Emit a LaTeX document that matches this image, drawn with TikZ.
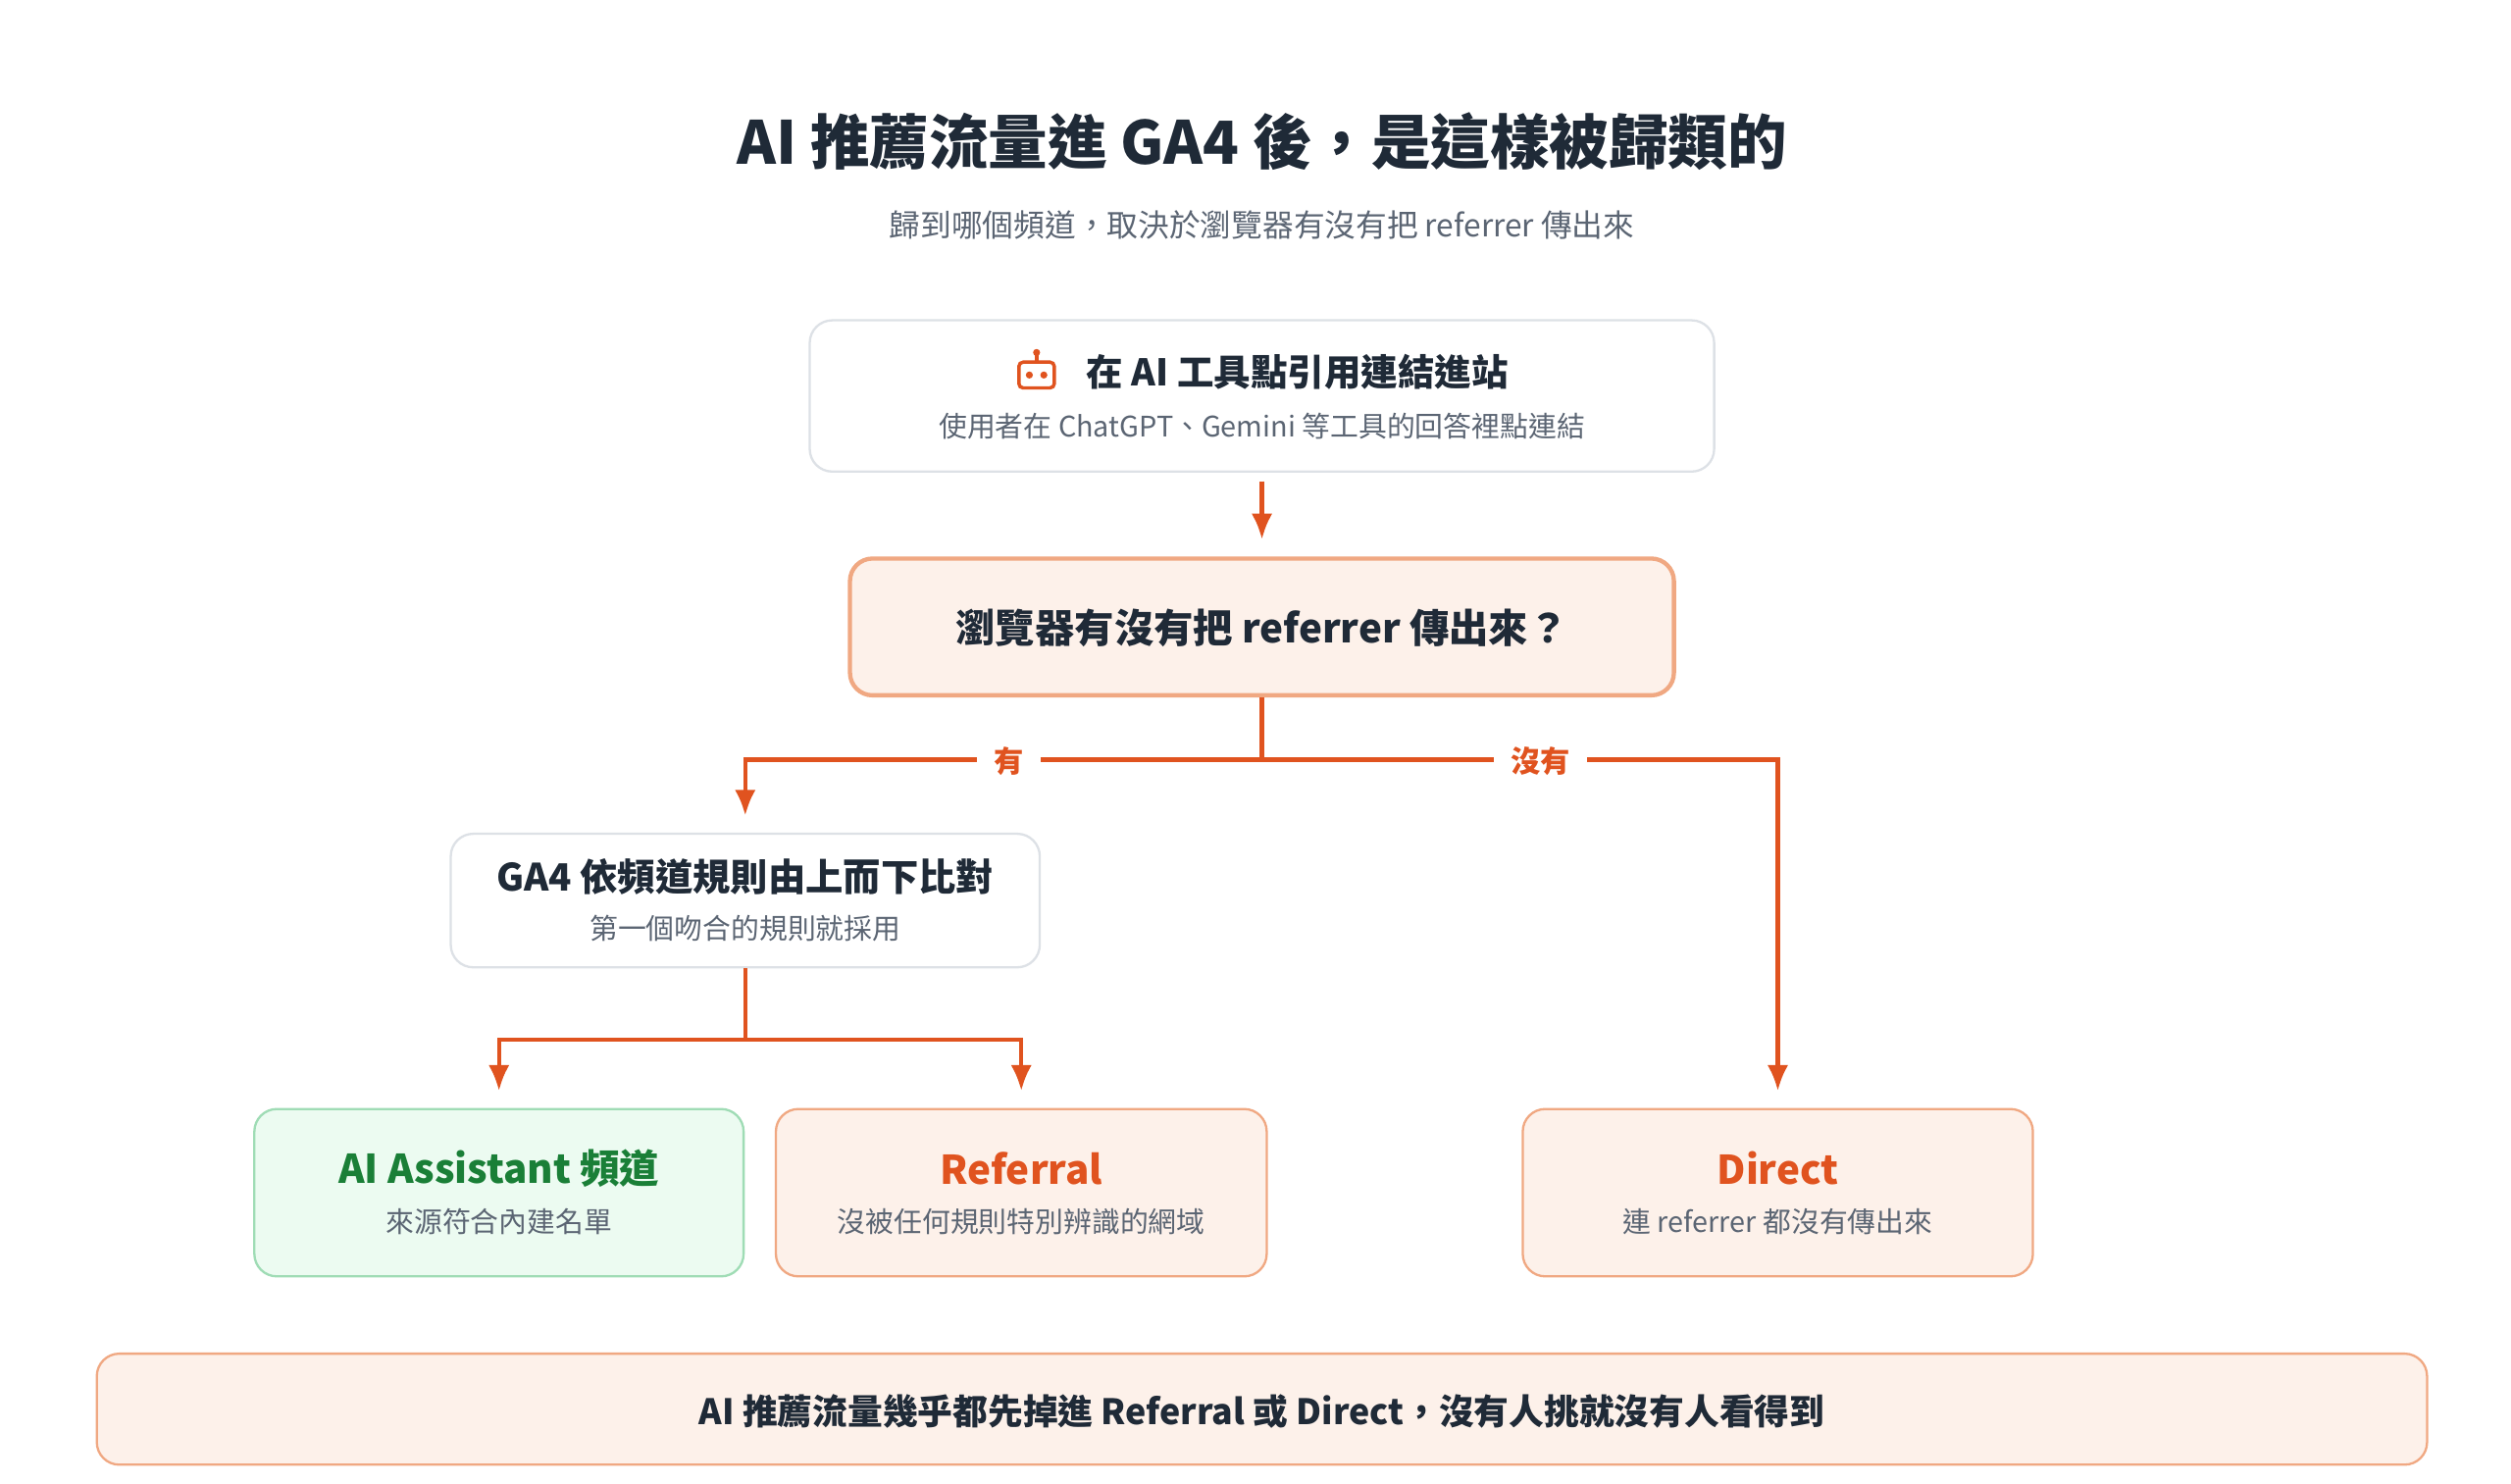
\documentclass[tikz,border=0pt]{standalone}
\usepackage{fontspec}
\setmainfont{Noto Sans CJK TC}
\usetikzlibrary{arrows.meta,positioning}
\definecolor{ink}{HTML}{1F2A37}
\definecolor{muted}{HTML}{5B6573}
\definecolor{flowc}{HTML}{E0531F}
\definecolor{peach}{HTML}{FDF1EA}
\definecolor{peachline}{HTML}{F0A882}
\definecolor{mint}{HTML}{ECFBF1}
\definecolor{mintline}{HTML}{9FDCB5}
\definecolor{leaf}{HTML}{1A7F37}
\definecolor{rim}{HTML}{DDE1E6}
\tikzset{
  >={Latex[length=3.2mm,width=2.6mm]},
  box/.style={draw=rim,line width=0.8pt,rounded corners=0.28cm,fill=white},
  hot/.style={box,draw=peachline,fill=peach},
  good/.style={box,draw=mintline,fill=mint},
  flow/.style={draw=flowc,line width=1.5pt},
  head/.style={font=\fontsize{14}{17}\selectfont\bfseries,text=ink},
  sub/.style={font=\fontsize{10}{12}\selectfont,text=muted},
  tag/.style={font=\fontsize{10.5}{12}\selectfont\bfseries,text=flowc,fill=white,inner xsep=6pt},
}
\begin{document}
\begin{tikzpicture}[x=0.02cm,y=-0.02cm]
  \useasboundingbox[fill=white] (0,0) rectangle (1560,921.4);
  % titles
  \node[font=\fontsize{21}{25}\selectfont\bfseries,text=ink] (title) at (784,88) {AI 推薦流量進 GA4 後，是這樣被歸類的};
  \node[font=\fontsize{11}{13}\selectfont,text=muted] (subtitle) at (784,140) {歸到哪個頻道，取決於瀏覽器有沒有把 referrer 傳出來};
  % boxes
  \node[box,minimum width=11.24cm,minimum height=1.88cm] (click) at (784,246) {};
  \node[head,font=\fontsize{13}{15}\selectfont\bfseries] (clickt) at (806,231) {在 AI 工具點引用連結進站};
  \node[sub] (clicks) at (784,265) {使用者在 ChatGPT、Gemini 等工具的回答裡點連結};
  % robot icon
  \begin{scope}[shift={(644,232)},flowc,line width=1.2pt]
    \draw[rounded corners=1.5pt] (-11,-7) rectangle (11,9);
    \draw (0,-7) -- (0,-12);
    \fill (0,-13) circle (2.2);
    \fill (-4.5,1) circle (2.2) (4.5,1) circle (2.2);
  \end{scope}
  \node[hot,line width=1.5pt,minimum width=10.24cm,minimum height=1.7cm] (ask) at (784,389.5) {};
  \node[head] (askt) at (784,390) {瀏覽器有沒有把 referrer 傳出來？};
  \node[box,minimum width=7.32cm,minimum height=1.66cm] (rule) at (463,559.5) {};
  \node[head,font=\fontsize{13.3}{16}\selectfont\bfseries] (rulet) at (463,545) {GA4 依頻道規則由上而下比對};
  \node[sub] (rules) at (463,577) {第一個吻合的規則就採用};
  \node[good,minimum width=6.08cm,minimum height=2.08cm] (ai) at (310,741) {};
  \node[head,text=leaf] (ait) at (310,726) {AI Assistant 頻道};
  \node[sub] (ais) at (310,759) {來源符合內建名單};
  \node[hot,minimum width=6.1cm,minimum height=2.08cm] (ref) at (634.5,741) {};
  \node[head,text=flowc] (reft) at (634.5,726) {Referral};
  \node[sub] (refs) at (634.5,759) {沒被任何規則特別辨識的網域};
  \node[hot,minimum width=6.34cm,minimum height=2.08cm] (dir) at (1104.5,741) {};
  \node[head,text=flowc] (dirt) at (1104.5,726) {Direct};
  \node[sub] (dirs) at (1104.5,759) {連 referrer 都沒有傳出來};
  \node[hot,minimum width=28.96cm,minimum height=1.38cm] (note) at (784,875.5) {};
  \node[head,font=\fontsize{12.4}{14}\selectfont\bfseries] (notet) at (784,877) {AI 推薦流量幾乎都先掉進 Referral 或 Direct，沒有人挑就沒有人看得到};
  % connectors
  \coordinate (fork) at (784,472);
  \coordinate (fork2) at (463,646);
  \draw[flow,->,shorten <=3pt,shorten >=6pt] (click) -- (ask);
  \draw[flow] (ask) -- (fork);
  \draw[flow,->,shorten >=6pt] (fork) -| (rule.north);
  \draw[flow,->,shorten >=6pt] (fork) -| (dir.north);
  \node[tag] (yes) at (627,473) {有};
  \node[tag] (no) at (957,473) {沒有};
  \draw[flow] (rule) -- (fork2);
  \draw[flow,->,shorten >=6pt] (fork2) -| (ai.north);
  \draw[flow,->,shorten >=6pt] (fork2) -| (ref.north);
\end{tikzpicture}
\end{document}
